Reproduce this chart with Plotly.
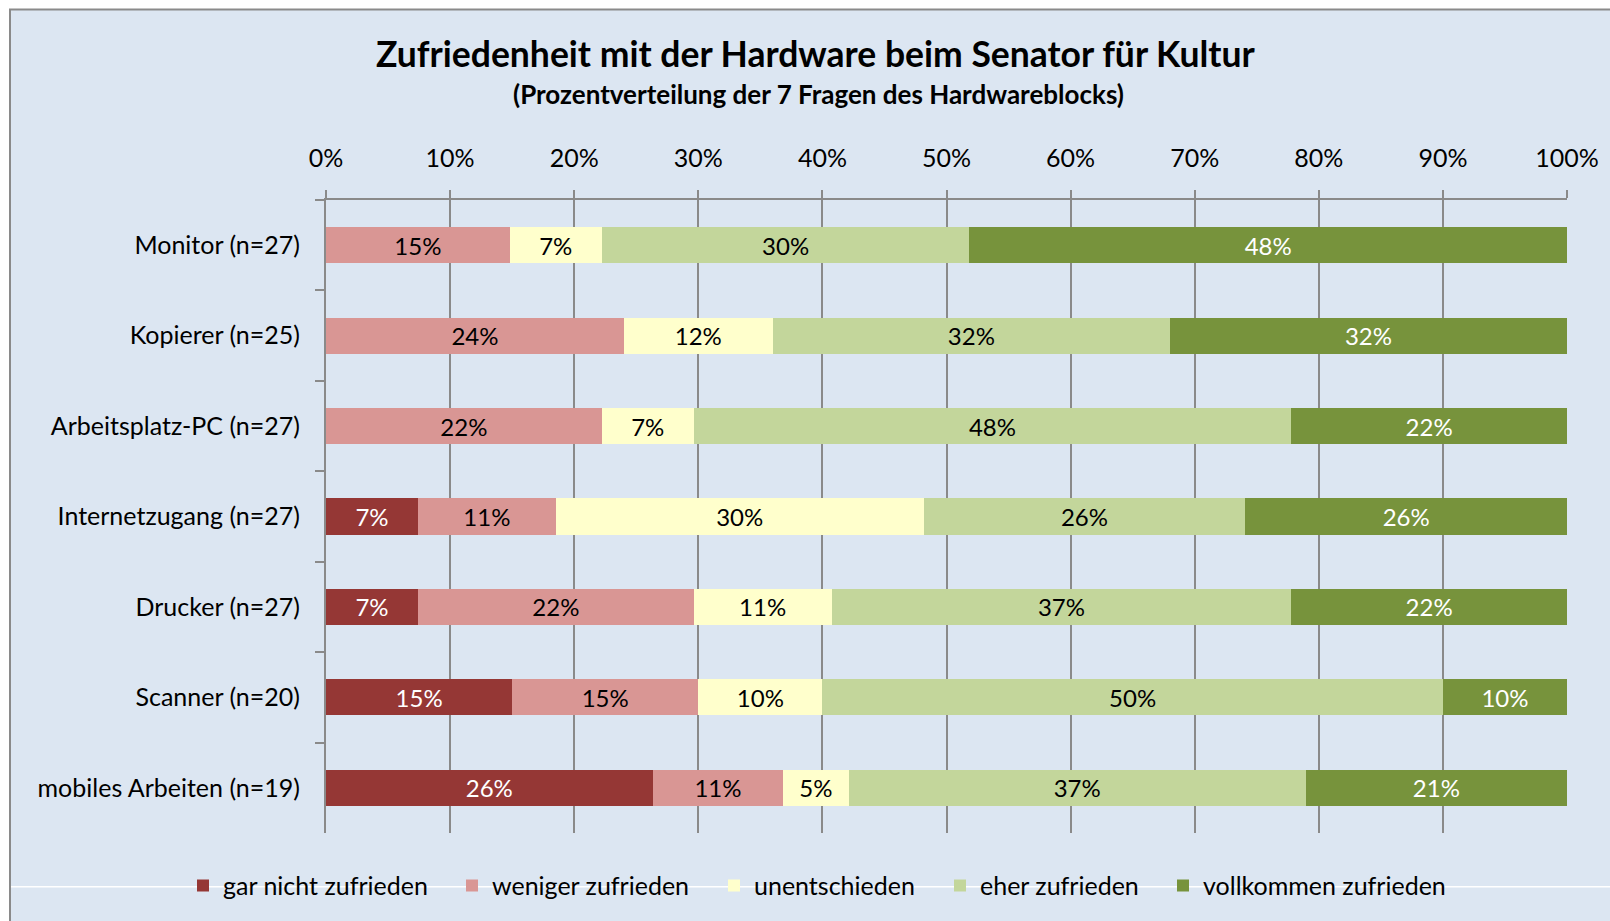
import plotly.graph_objects as go

categories = ["Monitor (n=27)", "Kopierer (n=25)", "Arbeitsplatz-PC (n=27)",
              "Internetzugang (n=27)", "Drucker (n=27)", "Scanner (n=20)",
              "mobiles Arbeiten (n=19)"]

gar_nicht = [0, 0, 0, 7.41, 7.41, 15, 26.32]
weniger = [14.81, 24, 22.22, 11.11, 22.22, 15, 10.53]
unentschieden = [7.41, 12, 7.41, 29.63, 11.11, 10, 5.26]
eher = [29.63, 32, 48.15, 25.93, 37.04, 50, 36.84]
vollkommen = [48.15, 32, 22.22, 25.93, 22.22, 10, 21.05]

series_names = ["gar nicht zufrieden", "weniger zufrieden", "unentschieden",
                "eher zufrieden", "vollkommen zufrieden"]
series_values = [gar_nicht, weniger, unentschieden, eher, vollkommen]
series_colors = ["#953735", "#D99694", "#FFFFCC", "#C3D69B", "#77933C"]
text_colors = ["white", "black", "black", "black", "white"]

x_ticks = list(range(0, 101, 10))
x_tick_labels = [f"{t}%" for t in x_ticks]

W, H = 1610, 921
L, R, T, B = 326, 1567, 200, 835
FONT = "Lato, 'Open Sans', sans-serif"
GRAY = "#8a8a8a"


def px(x):
    return (x - L) / (R - L)


def py(y):
    return (B - y) / (B - T)


# left edge (pixels) of each legend entry's text
legend_text_x = [223, 492, 754, 980, 1203]
legend_names = ["legend", "legend2", "legend3", "legend4", "legend5"]

fig = go.Figure()
for name, vals, col, tcol, lg in zip(series_names, series_values, series_colors,
                                     text_colors, legend_names):
    fig.add_trace(go.Bar(
        name=name, y=categories, x=vals, orientation="h",
        marker=dict(color=col, line=dict(width=0)),
        text=[f"{v:.0f}%" if v > 0 else "" for v in vals],
        textposition="inside", insidetextanchor="middle", textangle=0,
        constraintext="none",
        textfont=dict(color=tcol, size=24, family=FONT),
        hoverinfo="x+y+name", legend=lg,
    ))

legends = {}
for lg, tx in zip(legend_names, legend_text_x):
    legends[lg] = dict(orientation="h", x=px(tx - 40), xanchor="left", y=py(888),
                       yanchor="middle", font=dict(size=25, family=FONT),
                       bgcolor="rgba(0,0,0,0)", borderwidth=0)

fig.update_layout(
    width=W, height=H,
    margin=dict(l=L, r=W - R, t=T, b=H - B),
    barmode="stack", bargap=0.6,
    paper_bgcolor="white", plot_bgcolor="rgba(0,0,0,0)",
    font=dict(family=FONT, size=25, color="black"),
    showlegend=True,
    xaxis=dict(side="top", range=[0, 100], tickmode="array", tickvals=x_ticks,
               ticktext=x_tick_labels, showgrid=True, gridcolor=GRAY, gridwidth=1.5,
               showline=True, linecolor=GRAY, linewidth=2, ticks="outside",
               ticklen=8, tickcolor=GRAY, tickwidth=1.5, zeroline=False,
               ticklabelstandoff=13, tickfont=dict(size=25, family=FONT)),
    yaxis=dict(autorange="reversed", showgrid=False, showline=True, linecolor=GRAY,
               linewidth=2, ticks="outside", tickson="boundaries", ticklen=9,
               tickcolor=GRAY, tickwidth=1.5, ticklabelstandoff=19,
               tickfont=dict(size=25, family=FONT)),
    shapes=[
        dict(type="rect", xref="paper", yref="paper", x0=px(10), x1=px(1640),
             y0=py(950), y1=py(9), fillcolor="#DCE6F2",
             line=dict(color=GRAY, width=2), layer="below"),
        dict(type="line", xref="paper", yref="paper", x0=px(11), x1=px(1610),
             y0=py(889), y1=py(889), line=dict(color="white", width=1.5), layer="below"),
    ],
    annotations=[
        dict(text="<b>Zufriedenheit mit der Hardware beim Senator für Kultur</b>",
             xref="paper", yref="paper", x=px(816), y=py(53), showarrow=False,
             xanchor="center", yanchor="middle", font=dict(size=35.5, family=FONT)),
        dict(text="<b>(Prozentverteilung der 7 Fragen des Hardwareblocks)</b>",
             xref="paper", yref="paper", x=px(818), y=py(94), showarrow=False,
             xanchor="center", yanchor="middle", font=dict(size=26, family=FONT)),
    ],
    **legends,
)

fig.write_html("out.html", config={"displayModeBar": False},
               post_script="document.body.style.margin='0px';document.body.style.overflow='hidden';")
